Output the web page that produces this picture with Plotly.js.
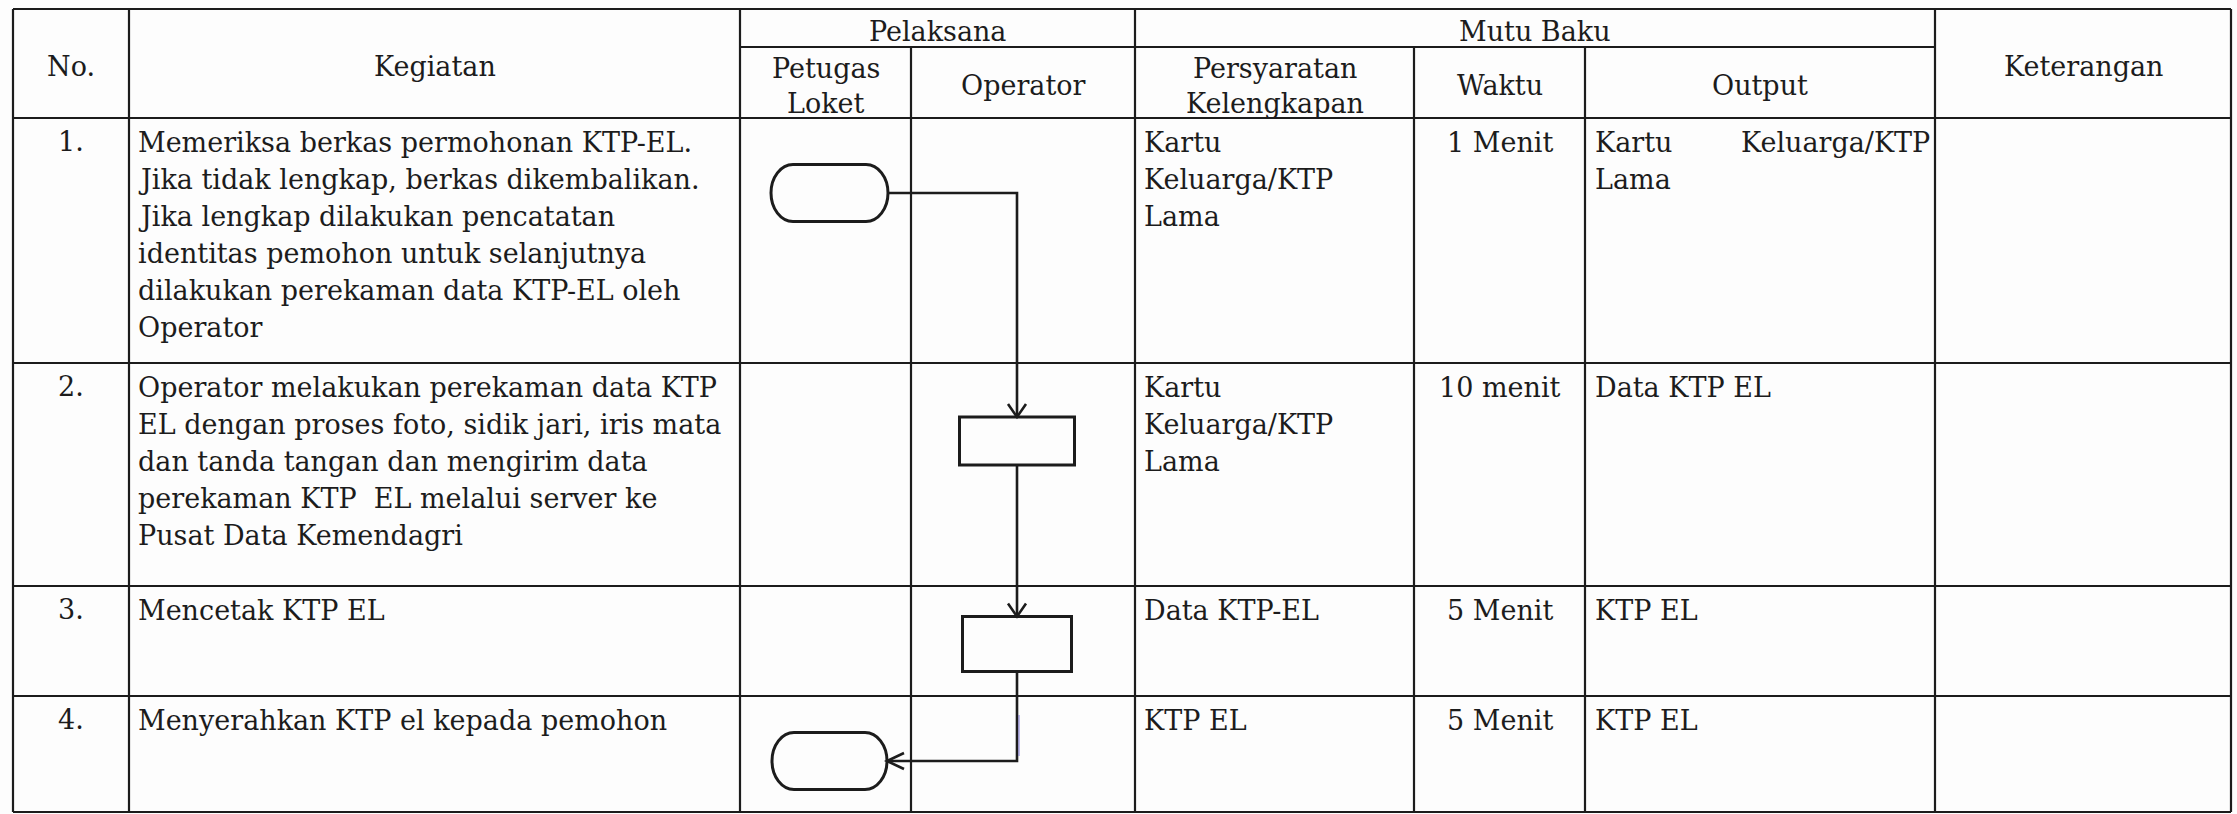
<!DOCTYPE html>
<html><head><meta charset="utf-8">
<script src="https://cdn.plot.ly/plotly-3.0.1.min.js"></script>
<style>html,body{margin:0;padding:0;background:#fdfdfd;overflow:hidden}</style>
</head><body><div id="chart"></div>
<script>
// ===================== DATA =====================
const judulKolom = ["No.", "Kegiatan", "Keterangan"];
const judulGrup = ["Pelaksana", "Mutu Baku"];
const judulPelaksana = [["Petugas", "Loket"], ["Operator"]];
const judulMutuBaku = [["Persyaratan", "Kelengkapan"], ["Waktu"], ["Output"]];
const nomor = ["1.", "2.", "3.", "4."];
const kegiatan = [
  ["Memeriksa berkas permohonan KTP-EL.", "Jika tidak lengkap, berkas dikembalikan.", "Jika lengkap dilakukan pencatatan", "identitas pemohon untuk selanjutnya", "dilakukan perekaman data KTP-EL oleh", "Operator"],
  ["Operator melakukan perekaman data KTP", "EL dengan proses foto, sidik jari, iris mata", "dan tanda tangan dan mengirim data", "perekaman KTP  EL melalui server ke", "Pusat Data Kemendagri"],
  ["Mencetak KTP EL"],
  ["Menyerahkan KTP el kepada pemohon"]
];
const persyaratan = [["Kartu", "Keluarga/KTP", "Lama"], ["Kartu", "Keluarga/KTP", "Lama"], ["Data KTP-EL"], ["KTP EL"]];
const waktu = ["1 Menit", "10 menit", "5 Menit", "5 Menit"];
const output = [["Kartu Keluarga/KTP", "Lama"], ["Data KTP EL"], ["KTP EL"], ["KTP EL"]];
const keterangan = ["", "", "", ""];
const alurPelaksana = [0, 1, 1, 0];           // 0 = Petugas Loket, 1 = Operator
const alurBentuk = ["terminator", "proses", "proses", "terminator"];

// ===================== LAYOUT / STYLE =====================
const W = 2237, H = 814;
const colX = [13, 129, 740, 911, 1135, 1414, 1585, 1935, 2231];
const rowY = [9, 47, 118, 363, 586, 696, 812];
const INK = "#1c1c1c";
const FONT = {family: "DejaVu Serif", size: 27, color: INK};
const LINE_H = 37, FIRST_DY = 24, PAD_L = 8;
const GRID_W = 2.2, SHAPE_W = 3, CONN_W = 2.6;
const nodeDx = [4, -6];
const nodeDy = [75, 78, 58, 65];
const nodeW = [117, 115, 109, 115];
const nodeH = [57, 48, 55, 57];
const TERM_RX = 22;

const shapes = [];
const ann = [];

function seg(x0, y0, x1, y1, w, c) {
  shapes.push({type: "line", xref: "x", yref: "y", x0, y0, x1, y1, line: {color: c || INK, width: w || GRID_W}});
}
function path(d, w, c) {
  shapes.push({type: "path", xref: "x", yref: "y", path: d, line: {color: c || INK, width: w}, fillcolor: "rgba(0,0,0,0)"});
}
function txt(x, y, t, xa) {
  ann.push({x, y, xref: "x", yref: "y", text: t, showarrow: false, xanchor: xa || "center", yanchor: "middle", font: FONT, borderpad: 0});
}

// ---------- grid ----------
const fullTop = rowY[0], subTop = rowY[1], headBot = rowY[2], bot = rowY[6];
[0, 1, 2, 4, 7, 8].forEach(i => seg(colX[i], fullTop, colX[i], bot));
[3, 5, 6].forEach(i => seg(colX[i], subTop, colX[i], bot));
seg(colX[0], fullTop, colX[8], fullTop);
seg(colX[2], subTop, colX[7], subTop);
for (let r = 2; r < rowY.length; r++) seg(colX[0], rowY[r], colX[8], rowY[r]);

// ---------- headers ----------
const midHead = (fullTop + headBot) / 2 + 3;
txt((colX[0] + colX[1]) / 2, midHead, judulKolom[0]);
txt((colX[1] + colX[2]) / 2, midHead, judulKolom[1]);
txt((colX[7] + colX[8]) / 2, midHead, judulKolom[2]);
const midGrp = (fullTop + subTop) / 2 + 3;
txt((colX[2] + colX[4]) / 2, midGrp, judulGrup[0]);
txt((colX[4] + colX[7]) / 2, midGrp, judulGrup[1]);
const midSub = (subTop + headBot) / 2 + 3;
function subHeader(lines, xl, xr) {
  const n = lines.length;
  lines.forEach((t, i) => txt((xl + xr) / 2, midSub + (i - (n - 1) / 2) * 35, t));
}
judulPelaksana.forEach((l, i) => subHeader(l, colX[2 + i], colX[3 + i]));
judulMutuBaku.forEach((l, i) => subHeader(l, colX[4 + i], colX[5 + i]));

// ---------- body ----------
for (let r = 0; r < nomor.length; r++) {
  const top = rowY[2 + r];
  const ly = i => top + FIRST_DY + LINE_H * i;
  txt((colX[0] + colX[1]) / 2, ly(0) - 1, nomor[r]);
  kegiatan[r].forEach((t, i) => txt(colX[1] + PAD_L, ly(i), t, "left"));
  persyaratan[r].forEach((t, i) => txt(colX[4] + PAD_L, ly(i), t, "left"));
  txt((colX[5] + colX[6]) / 2, ly(0), waktu[r]);
  output[r].forEach((t, i) => {
    const words = t.split(" ");
    const justify = i < output[r].length - 1 && words.length === 2;
    if (justify) {
      txt(colX[6] + PAD_L + 1, ly(i), words[0], "left");
      txt(colX[7] - 4, ly(i), words[1], "right");
    } else {
      txt(colX[6] + PAD_L + 1, ly(i), t, "left");
    }
  });
  if (keterangan[r]) txt(colX[7] + PAD_L, ly(0), keterangan[r], "left");
}

// ---------- flowchart ----------
const nodes = alurPelaksana.map((lane, i) => {
  const cx = (colX[2 + lane] + colX[3 + lane]) / 2 + nodeDx[lane];
  const cy = rowY[2 + i] + nodeDy[i];
  const w = nodeW[i], h = nodeH[i];
  return {lane, cx, cy, w, h, l: cx - w / 2, r: cx + w / 2, t: cy - h / 2, b: cy + h / 2, kind: alurBentuk[i]};
});
nodes.forEach(n => {
  if (n.kind === "terminator") {
    const rx = TERM_RX, ry = n.h / 2, k = 0.5523;
    const d = `M${n.l + rx},${n.t} L${n.r - rx},${n.t} ` +
      `C${n.r - rx + k * rx},${n.t} ${n.r},${n.cy - k * ry} ${n.r},${n.cy} ` +
      `C${n.r},${n.cy + k * ry} ${n.r - rx + k * rx},${n.b} ${n.r - rx},${n.b} ` +
      `L${n.l + rx},${n.b} ` +
      `C${n.l + rx - k * rx},${n.b} ${n.l},${n.cy + k * ry} ${n.l},${n.cy} ` +
      `C${n.l},${n.cy - k * ry} ${n.l + rx - k * rx},${n.t} ${n.l + rx},${n.t} Z`;
    path(d, SHAPE_W);
  } else {
    path(`M${n.l},${n.t} L${n.r},${n.t} L${n.r},${n.b} L${n.l},${n.b} Z`, SHAPE_W);
  }
});
function arrowDown(x, y) { path(`M${x - 9},${y - 13} L${x},${y} L${x + 9},${y - 13}`, CONN_W); }
function arrowLeft(x, y) { path(`M${x + 17},${y - 8} L${x},${y} L${x + 17},${y + 8}`, CONN_W); }
for (let i = 0; i < nodes.length - 1; i++) {
  const a = nodes[i], b = nodes[i + 1];
  if (a.lane < b.lane) {
    path(`M${a.r},${a.cy} L${b.cx},${a.cy} L${b.cx},${b.t}`, CONN_W);
    arrowDown(b.cx, b.t);
  } else if (a.lane === b.lane) {
    path(`M${a.cx},${a.b} L${a.cx},${b.t}`, CONN_W);
    arrowDown(a.cx, b.t);
  } else {
    path(`M${a.cx},${a.b} L${a.cx},${b.cy} L${b.r},${b.cy}`, CONN_W);
    arrowLeft(b.r, b.cy);
    // faint violet scanner tint along the vertical run in the last row
    seg(a.cx + 2, rowY[2 + i + 1] + 19, a.cx + 2, b.cy - 5, 1.6, "rgba(110,100,210,0.55)");
  }
}

const layout = {
  width: W, height: H,
  margin: {l: 0, r: 0, t: 0, b: 0},
  paper_bgcolor: "#fdfdfd", plot_bgcolor: "#fdfdfd",
  showlegend: false,
  xaxis: {range: [0, W], visible: false, fixedrange: true},
  yaxis: {range: [H, 0], visible: false, fixedrange: true},
  shapes, annotations: ann
};
Plotly.newPlot("chart", [{x: [], y: [], type: "scatter", hoverinfo: "skip"}], layout, {staticPlot: true, displayModeBar: false});
</script>
</body></html>
